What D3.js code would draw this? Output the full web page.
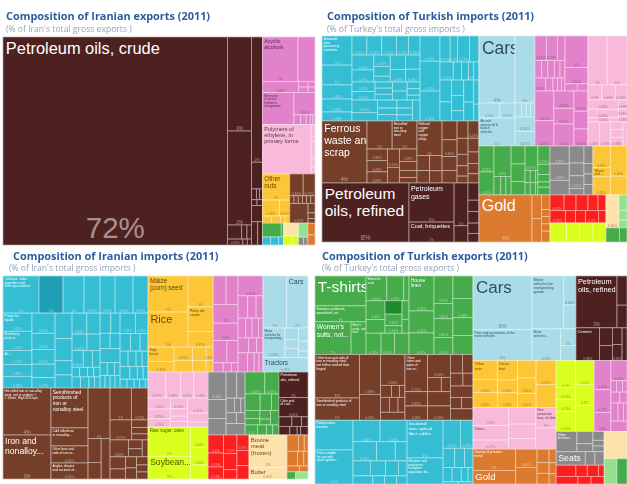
<!DOCTYPE html>
<html>
<head>
<meta charset="utf-8">
<script src="https://cdn.jsdelivr.net/npm/d3@7"></script>
<style>
  html, body { margin: 0; background: #fff; overflow: hidden; }
  svg { display: block; filter: blur(0.4px); }
</style>
</head>
<body>
<svg id="chart" width="627" height="484"></svg>
<script>
// Four export/import treemaps, 2011. Values are % of the total.

const cols = (...kids) => { kids.dir = "cols"; return kids; };
const rows = (...kids) => { kids.dir = "rows"; return kids; };
const tint = (sector, kids) => { kids.sector = sector; return kids; };
const c = (value, share, label) => ({ value, share, label });

// --- Iranian exports ---
const iranExportsOil = tint("oil", cols(
  c(72, "72%", "Petroleum oils, crude"),
  rows(c(3.48, "3%"), c(3.48, "2%"),
    rows(cols(.3, .12, .1), cols(c(.14, "0.18%"), .04, .04))),
  rows(c(2.1, "2%"), .45, cols(.08, .05, .05), cols(.05, .05), .27, cols(.22, .17))
));
const iranExportsChem = tint("chem", rows(
  cols(c(2.43, "2%", "Acyclic\nalcohols"), 1.17),
  cols(c(.62, "0.60%"), rows(.08, .08), rows(.06, .06)),
  cols(c(1.54, "", "Mineral or\nchemical\nfertilizers,\nnitrogenous"),
    rows(c(.72, "0.50%"), cols(.1, .08, .06, .04, .03)))
));
const iranExportsPlastic = tint("plastic", cols(
  c(3.72, "", "Polymers of\nethylene, in\nprimary forms"), rows(.1, .1, .05, .04)
));
const iranExportsFood = tint("food", rows(
  c(1.1, "1%", "Other\nnuts"),
  cols(c(.42, "0.26%"), c(.25, "0.18%")),
  cols(.1, .1, .05, .05)
));
const iranExportsMetal = tint("metal", rows(
  cols(c(.45, "0.30%"), c(.4, "0.27%")),
  cols(.05, .05, .05, .05, .05, .05),
  cols(c(.55, "0.37%"), rows(.1, .06, .05))
));
const iranExportsRest = cols(
  rows(tint("green", cols(.4, .05)), tint("cyan", cols(.1, .1, .06))),
  rows(tint("cream", rows(.3)), tint("lime", cols(.12, .09))),
  rows(tint("lgreen", rows(.2)), tint("grey", cols(.06, .05))),
  tint("orange", rows(.13, .11))
);

// --- Turkish imports ---
const turkeyImportsMachinery = tint("cyan", cols(
  rows(c(1.39, "1%", "Automatic\ndata\nprocessing\nmachines"), c(.95, "1%"), c(.67, "0.40%"), c(.62, "0.30%"), c(.43, "0.28%")),
  rows(
    cols(c(.45, "0.30%"), c(.45, "0.29%"), c(.45, "0.29%"), c(.36, "0.24%"), c(.35, "0.23%")),
    cols(rows(c(.52, "0.30%"), c(.42, "0.29%")), rows(c(.3, "0.20%"), .25, .15), rows(.35, c(.3, "0.26%")), rows(.33, c(.3, "0.28%"))),
    cols(rows(c(.35, "0.28%"), c(.31, "0.25%")), rows(.17, .17, .16), rows(.21, .21), rows(.14, .13, .1)),
    cols(rows(c(.5, "0.23%"), .35), rows(.25, .2, .2), rows(.2, .17, .15), .25)
  ),
  rows(c(.8, "0.35%"), c(.95, "0.32%"), c(.95, "0.30%")),
  rows(
    cols(c(.42, "0.27%"), c(.3, "0.17%"), c(.5, "0.17%"), .39),
    cols(c(.38, "0.15%"), .24, .2, c(.15, "0.14%"), .15),
    cols(rows(.4, .35), rows(.3, .3, .2), rows(.35, .3), rows(.2, .14))
  )
));
const turkeyImportsMetal = tint("metal", cols(
  c(4.44, "4%", "Ferrous\nwaste and\nscrap"),
  rows(
    cols(c(1.12, "1%"), c(1.11, "1%", "Hot rolled\niron or\nnon-alloy\nsteel")),
    cols(rows(c(.37, "0.30%"), c(.37, "0.28%"), c(.36, "0.28%")), rows(c(.35, "0.19%"), .3), rows(c(.35, "0.18%"), .25, .2, .15))
  ),
  rows(c(1.38, "1%", "Refined\ncopper\nand\ncopper\nalloys"), cols(rows(.3, .25), rows(.3, .24))),
  cols(rows(.45, c(.4, "0.40%"), .33, .3), rows(.3, .28, .2, .18, .12), rows(c(.3, "0.24%"), .24, .2, .18, .16))
));
const turkeyImportsOil = tint("oil", cols(
  c(8.17, "8%", "Petroleum\noils, refined"),
  rows(c(2.8, "3%", "Petroleum\ngases"), c(1.43, "1%", "Coal; briquettes")),
  rows(c(.95, "1%"), .36),
  rows(.3, .2, .2, .18, .15)
));
const turkeyImportsVehicles = tint("vehicle", cols(
  rows(cols(c(3.84, "4%", "Cars")), cols(c(.5, "0.50%"), c(.36, "0.37%")), c(1.6, "1%", "Aircraft,\nspacecraft &\nlaunch\nvehicles")),
  rows(c(2.13, "2%"), cols(.15, .1, .1, .1), c(.45, "0.36%"), c(.47, "0.17%"))
));
const turkeyImportsChem = tint("chem", rows(
  cols(
    rows(cols(c(.45, "0.33%"), c(.42, "0.26%"), .3), cols(.18, .18, .18, .16, .14), cols(c(.22, "0.29%"), .15, .1, .08, .07)),
    rows(c(1.15, "1%"), c(.6, "0.40%"), cols(.14, .12))
  ),
  cols(
    rows(c(.9, "0.27%"), c(.76, "0.47%")),
    rows(c(.55, "0.28%"), c(.5, "0.25%"), c(.7, "0.40%")),
    rows(c(.45, "0.26%"), .4, c(.38, "0.26%"))
  )
));
const turkeyImportsPlastic = tint("plastic", rows(
  cols(c(1.5, "1%"), c(1.54, "1%")),
  cols(c(.33, "0.4%"), c(.32, "0.44%"), c(.28, "0.43%")),
  cols(rows(c(.45, "0.38%"), c(.42, "0.28%"), c(.2, "0.24%")), rows(c(.12, "0.18%"), c(.1, "0.11%"), c(.08, "0.11%"))),
  cols(c(.45, "0.45%"), c(.42, "0.33%"), rows(.15, .15, c(.17, "0.38%")), .15)
));
const turkeyImportsGreen = tint("green", cols(
  rows(c(.62, "0.53%"), c(.55, "0.49%")),
  rows(c(.83, "0.5%"), cols(.2, .15, .15)),
  rows(.4, .39, .3),
  rows(c(.5, "0.37%"), cols(.1, .1, .05), cols(.1, .1, .05)),
  rows(c(.35, "0.20%"), .2, .14, .1, .15)
));
const turkeyImportsGrey = tint("grey", cols(
  rows(c(.55, "0.35%"), c(.5, "0.33%"), .45),
  rows(.4, .3, c(.3, "0.21%"), .15),
  rows(.25, .15, .15, .15)
));
const turkeyImportsFood = tint("food", cols(
  rows(c(.6, "0.34%"), c(.25, "", "Wheat\nand..."), c(.5, "0.30%")),
  rows(c(.8, "0.30%"), .5)
));
const turkeyImportsGold = tint("orange", cols(
  c(3.97, "4%", "Gold"),
  rows(.35, .35),
  rows(.2, .1, .1, .1, .15)
));
const turkeyImportsRed = tint("red", rows(
  cols(c(.35, "0.37%"), .3, .3, .25, .2),
  cols(c(.3, "0.25%"), .2, .2, c(.25, "0.2%"), .15)
));
const turkeyImportsLime = tint("lime", cols(.5, .4, .4, .39));
const turkeyImportsCorner = rows(
  cols(tint("cream", rows(c(.68, "0.30%"))), tint("lgreen", rows(.2, .12, .1))),
  tint("green", cols(.3, .17))
);

// --- Iranian imports ---
const iranImportsMachinery = tint("cyan", rows(
  cols(
    c(2.16, "2%", "Cellulose, turbo\npropellers and\nother gas turbines"),
    tint("cyanDark", rows(c(1.44, "1%"))),
    c(1.26, "1%"), c(.96, "0.50%"), c(.9, "0.50%"), c(1.08, "0.40%"), c(.9, "0.45%")
  ),
  cols(
    rows(c(.85, "0.60%", "Pumps for\nliquids"), c(.9, "0.51%", "Machinery,\nplant or..."), c(.66, "0.50%", "Ac..."), c(.55, "0.35%"), c(.55, "0.30%")),
    rows(c(.75, "0.31%"), c(.6, "0.35%"), c(.55, "0.37%"), .5, c(.39, "0.37%")),
    rows(.7, .6, .4, .36),
    rows(cols(c(.5, "0.34%"), .45), cols(c(.4, "0.32%"), .35), cols(c(.3, "0.30%"), .25, .2), cols(.12, .12, .1, .1), cols(.15, .15, .1, .1)),
    rows(cols(.35, .3), cols(.25, .25), .45, cols(.15, .15, .12), cols(.1, .1, .1, .1)),
    rows(cols(c(.5, "0.25%"), c(.42, "0.25%")), cols(.3, .27, .23), cols(.2, .2, .15, .15), cols(.2, .15, .12, .1), cols(.1, .1, .08, .08, .04))
  )
));
const iranImportsMetal = tint("metal", cols(
  rows(c(3.64, "4%", "Hot rolled iron or non-alloy\nsteel, coil or uniform, t\n< 10mm, High 355 mpa"), c(3.41, "3%", "Iron and\nnonalloy...")),
  rows(c(2.39, "", "Semifinished\nproducts of\niron or\nnonalloy steel"), c(1.08, "", "Cold rolled iron\nor non-alloy..."), c(1.02, "0.40%", "Other bars and\nrods of iron or..."), c(.96, "0.40%", "Angles, shapes\nand sections of...")),
  rows(c(1.8, "1%"), cols(rows(.5, .35), .58)),
  rows(
    cols(c(1.1, "1%"), c(.86, "0.75%")),
    cols(c(.7, "0.57%"), rows(.2, .17, .16)),
    cols(c(.5, "0.50%"), rows(.2, .18), .16),
    cols(rows(.3, .25), rows(.2, .2), rows(.15, .13, .13))
  )
));
const iranImportsFood = tint("food", rows(
  cols(
    rows(c(2.33, "2%", "Maize\n(corn) seed"), c(2.26, "1%", "Rice")),
    rows(c(1.25, "1%"), c(1, "", "Palm oil,\ncrude"), c(.62, "0.67%"))
  ),
  cols(
    rows(c(.6, "", "Soya\nbeans"), c(.45, "0.30%")),
    rows(c(.4, "0.31%"), .35),
    rows(.3, .25),
    rows(c(.15, "0.30%"), .13)
  )
));
const iranImportsChem = tint("chem", cols(
  rows(cols(.6, .55), c(.75, "1%"), c(.7, "0.4%"), cols(.5, .4), cols(.15, .12, .1)),
  rows(c(.8, "0.40%"), cols(.35, .3, .25), cols(.25, .2, .2, .15), cols(.25, .2, .15), cols(.3, .2, .15, .125))
));
const iranImportsVehicles = tint("vehicle", rows(
  cols(c(2, "2%"), c(1.78, "2%", "Cars")),
  cols(c(1.05, "0.50%", "Motor\nvehicles for\ntransporting..."), rows(.25, .2, .2), rows(.2, .15, .1)),
  rows(c(1.05, "0.35%", "Tractors"))
));
const iranImportsPlastic = tint("plastic", rows(
  cols(c(.75, "0.57%"), c(.62, "0.48%"), c(.55, "0.41%"), c(.6, "0.46%")),
  cols(rows(c(.4, "0.36%"), c(.35, "0.25%"), c(.3, "0.25%")), rows(c(.3, "0.15%"), .2, .15, .15), rows(c(.5, "0.45%"), .3, .16))
));
const iranImportsLime = tint("lime", cols(
  rows(c(2, "2%", "Raw sugar, cane"), c(1.56, "2%", "Soybean...")),
  rows(c(.58, "0.34%"), c(.5, "0.30%"), .4)
));
const iranImportsGrey = tint("grey", cols(
  rows(c(.8, "0.40%"), .55, .48),
  rows(cols(.45, .35), cols(.2, .15, .1), cols(.18, .15), .35)
));
const iranImportsGreen = tint("green", rows(
  cols(c(.7, "0.40%"), c(.5, "0.37%")),
  cols(.4, .3, .2),
  cols(rows(.2, .15), rows(.15, .1), .2),
  cols(c(.2, "0.2%"), .15, .1, .1)
));
const iranImportsOil = tint("oil", rows(
  c(1.2, "2%", "Petroleum\noils, refined"),
  c(.9, "0.30%", "Coke and\nof coal..."),
  cols(.2, .15, .1),
  cols(.15, .1, .05, .1)
));
const iranImportsRed = tint("red", cols(
  rows(c(.45, "0.4%"), c(.35, "0.25%"), c(.3, "0.18%")),
  rows(c(.4, "0.32%"), .35, .2),
  rows(c(.3, "0.3%"), .3, .26)
));
const iranImportsCream = tint("cream", rows(
  c(2, "2%", "Bovine\nmeat\n(frozen)"),
  c(.7, "0.40%", "Butter")
));
const iranImportsCorner = rows(
  tint("orange", rows(cols(.3, .15, .1), cols(.25, .15, .1), cols(.12, .08))),
  cols(tint("green", rows(.1)), tint("lgreen", rows(.14)))
);

// --- Turkish exports ---
const turkeyExportsGreen = tint("green", cols(
  rows(
    c(2.36, "", "T-shirts"),
    c(1.26, "1%", "Sweaters, pullovers,\nsweatshirts, etc"),
    cols(c(1.83, "1%", "Women's\nsuits, not..."), c(.76, "", "Men's\nsuits, not\nknit"))
  ),
  rows(
    cols(c(.8, "0.60%", "Women's\nsuits"), c(.65, "0.70%"), .2),
    cols(rows(c(.55, "0.30%"), .4), rows(tint("greenDark", rows(.35)), c(.3, "0.30%"), c(.2, "0.30%")), rows(.2, .15)),
    cols(c(.5, "0.33%"), c(.45, "0.30%"), .48)
  ),
  cols(
    rows(c(1.35, "0.50%", "House\nlinen"), c(.85, "0.30%"), c(.84, "0.35%")),
    cols(
      rows(c(.8, "0.47%"), c(.45, "0.30%"), c(.55, "0.30%"), c(.5, "0.30%")),
      rows(.7, c(.6, "0.38%"), .55, .6)
    )
  )
));
const turkeyExportsMetal = tint("metal", cols(
  rows(
    c(2.98, "3%", "Other bars and rods of\niron or nonalloy steel,\nnot further worked than\nforged"),
    c(1.53, "1%", "Semifinished products of\niron or nonalloy steel")
  ),
  cols(
    rows(c(1.3, "0.80%"), c(.85, "0.50%")),
    rows(c(1.15, "0.84%"), cols(.2, .15, .1), cols(.2, .2, .16), .3)
  ),
  cols(
    rows(c(1.3, "0.75%", "Other\ntubes and\npipes of\niron or..."), c(.5, "0.35%"), c(.5, "0.28%")),
    rows(c(.8, "0.60%"), cols(.3, .2), .5, c(.5, "0.30%")),
    rows(cols(.35, .3), cols(.25, .2), .4, cols(.2, .2), .4)
  )
));
const turkeyExportsMachinery = tint("cyan", cols(
  rows(c(1.75, "", "Refrigerators,\nfreezers"), c(2, "0.5%", "Parts suitable\nfor use with\nspark ignition...")),
  rows(
    cols(c(.9, "0.50%"), c(.9, "0.33%")),
    cols(c(.7, "0.33%"), .55, .35),
    cols(.4, .35, .3, .2),
    cols(.25, .15, .15, .13)
  ),
  cols(
    rows(c(2.1, "1%", "Insulated\nwire, optical\nfiber cables"), c(1.45, "", "Monitors and\nprojectors;\nreception\napparatus for...")),
    rows(cols(c(.75, "0.33%"), c(.55, "0.33%")), cols(.35, .3, .25), cols(.2, .2, .15, .11), cols(.05, .05))
  )
));
const turkeyExportsVehicles = tint("vehicle", cols(
  rows(c(4.9, "5%", "Cars"), c(2.82, "3%", "Parts and accessories of the\nmotor vehicles")),
  rows(
    cols(c(2.6, "", "Motor\nvehicles for\ntransporting\ngoods"), rows(c(.55, "0.84%"), .45)),
    cols(c(1.4, "0.74%", "Motor\nvehicles..."), rows(c(.4, "2%"), .36))
  )
));
const turkeyExportsOil = tint("oil", rows(
  cols(c(3.29, "3%", "Petroleum\noils, refined"), rows(.45, .35)),
  cols(c(1.2, "0.88%", "Cement"), rows(.35, .3), rows(.25, c(.24, "0.30%")), .25)
));
const turkeyExportsFood = tint("food", cols(
  rows(c(.7, "", "Other\nnuts"), c(.5, "0.55%"), c(.55, "0.52%")),
  rows(c(.6, "", "Citrus\nfruit"), c(.4, "0.70%"), c(.45, "0.18%")),
  rows(.5, c(.45, "0.30%"), c(.4, "0.20%")),
  rows(c(.75, "0.61%"), .7)
));
const turkeyExportsPlastic = tint("plastic", cols(
  rows(c(1, "0.3%"), c(.8, "", "Tubes..."), c(.5, "0.47%")),
  rows(.7, .6, .45),
  rows(c(.65, "1%", "New\npneumatic\ntires, of rubber"), .67)
));
const turkeyExportsOrange = tint("orange", cols(
  rows(c(1.4, "1%", "Jewelry of precious\nmetal"), c(.9, "", "Gold")),
  rows(c(.6, "0.60%"), .55),
  rows(.25, .2, .2),
  rows(.15, .12, .11)
));
const turkeyExportsLime = tint("lime", cols(
  rows(c(.8, "0.4%"), c(.35, "0.19%"), c(.35, "0.19%"), c(.6, "0.33%")),
  rows(c(.7, "0.41%"), c(.6, "0.3%"), .76)
));
const turkeyExportsChem = tint("chem", cols(
  rows(c(.75, "0.30%"), c(.6, "0.37%"), c(.5, "0.3%")),
  rows(c(.5, "0.45%"), cols(.1, .1, .08), cols(.15, .12), cols(.2, .15, .1), .26)
));
const turkeyExportsGrey = tint("grey", rows(
  cols(c(.65, "", "Other\nfurniture..."), rows(.3, .2), rows(.15, .1, .1)),
  cols(c(.6, "", "Seats"), .2, .19)
));
const turkeyExportsRed = tint("red", rows(cols(.35, .2, .2, .1), cols(.25, .15, .15)));
const turkeyExportsCorner = rows(
  tint("cream", rows(.96)),
  cols(tint("lgreen", rows(.5)), tint("green", rows(.39)))
);

// whole panels, built from the groups above
const iranExports = cols(
  iranExportsOil,
  rows(iranExportsChem, iranExportsPlastic, cols(iranExportsFood, iranExportsMetal), iranExportsRest)
);
const turkeyImports = cols(
  rows(turkeyImportsMachinery, turkeyImportsMetal, turkeyImportsOil),
  rows(
    cols(turkeyImportsVehicles, turkeyImportsChem, turkeyImportsPlastic),
    cols(turkeyImportsGreen, turkeyImportsGrey, turkeyImportsFood),
    cols(turkeyImportsGold, rows(turkeyImportsRed, turkeyImportsLime), turkeyImportsCorner)
  )
);
const iranImports = cols(
  rows(iranImportsMachinery, iranImportsMetal),
  rows(
    cols(iranImportsFood, iranImportsChem, iranImportsVehicles),
    cols(
      rows(iranImportsPlastic, iranImportsLime),
      rows(
        cols(iranImportsGrey, iranImportsGreen, iranImportsOil),
        cols(iranImportsRed, iranImportsCream, iranImportsCorner)
      )
    )
  )
);
const turkeyExports = cols(
  rows(turkeyExportsGreen, turkeyExportsMetal, turkeyExportsMachinery),
  rows(
    cols(turkeyExportsVehicles, turkeyExportsOil),
    cols(
      rows(turkeyExportsFood, turkeyExportsPlastic, turkeyExportsOrange),
      rows(
        cols(turkeyExportsLime, turkeyExportsChem),
        cols(rows(turkeyExportsGrey, turkeyExportsRed), turkeyExportsCorner)
      )
    )
  )
);

const titles = [
  "Composition of Iranian exports (2011)",
  "Composition of Turkish imports (2011)",
  "Composition of Iranian imports (2011)",
  "Composition of Turkish exports (2011)"
];
const notes = [
  "(% of Iran's total gross exports )",
  "(% of Turkey's total gross imports )",
  "(% of  Iran's total gross imports )",
  "(% of Turkey's total gross exports )"
];

const sectorFill = {
  oil: "#4e2121", metal: "#753e28", cyan: "#35bdd3", cyanDark: "#1f9fb5",
  vehicle: "#a9dce8", chem: "#e282cb", plastic: "#f8b9db", food: "#fdc637",
  green: "#46ab4a", greenDark: "#1f8a2a", grey: "#8a8a8a", orange: "#dc7a2f",
  red: "#fb1f1f", lime: "#d9ff1e", cream: "#fde3ab", lgreen: "#96e08f"
};
const sectorInk = {
  vehicle: "#2f4f5e", chem: "#5a2a55", plastic: "#5a3a4a", food: "#6a4a00",
  lime: "#4d5a00", cream: "#6a4a10"
};

const panels = [
  { tree: iranExports, box: { x: 3, y: 37, w: 312, h: 208 }, tx: 6, ty: 20, nx: 6, ny: 32,
    sizes: { "Petroleum oils, crude": 16.4, "Acyclic\nalcohols": 5.2, "Polymers of\nethylene, in\nprimary forms": 5.6, "Other\nnuts": 6.4 } },
  { tree: turkeyImports, box: { x: 322, y: 36, w: 305, h: 206 }, tx: 327, ty: 20, nx: 327, ny: 32,
    sizes: { "Cars": 17.5, "Ferrous\nwaste and\nscrap": 10.5, "Petroleum\noils, refined": 15.5, "Petroleum\ngases": 7, "Coal; briquettes": 5.6, "Gold": 16 } },
  { tree: iranImports, box: { x: 3, y: 276, w: 305, h: 203 }, tx: 13, ty: 260, nx: 9, ny: 271,
    sizes: { "Maize\n(corn) seed": 6.4, "Rice": 11, "Cars": 7, "Tractors": 6.4, "Iron and\nnonalloy...": 8.6, "Soybean...": 8.6, "Raw sugar, cane": 4.6,
      "Bovine\nmeat\n(frozen)": 6, "Butter": 5.6, "Semifinished\nproducts of\niron or\nnonalloy steel": 5, "Palm oil,\ncrude": 4, "Petroleum\noils, refined": 3.6 } },
  { tree: turkeyExports, box: { x: 315, y: 276, w: 312, h: 208 }, tx: 322, ty: 260, nx: 322, ny: 271,
    sizes: { "T-shirts": 15.5, "Cars": 17, "Gold": 9.6, "Seats": 8.8, "Petroleum\noils, refined": 7.4, "Women's\nsuits, not...": 6.6, "House\nlinen": 5,
      "Insulated\nwire, optical\nfiber cables": 4.4, "Other\nnuts": 3.8, "Citrus\nfruit": 3.8, "Cement": 4, "Motor\nvehicles for\ntransporting\ngoods": 3.8 } }
];
const bigShares = { "72%": 29.5 };

const svg = d3.select("#chart");
const tile = (node, x0, y0, x1, y1) =>
  (node.data.dir === "rows" ? d3.treemapSlice : d3.treemapDice)(node, x0, y0, x1, y1);

panels.forEach((panel, i) => {
  svg.append("text")
    .attr("x", panel.tx).attr("y", panel.ty)
    .attr("fill", "#2d5c9e")
    .attr("font-family", "'Open Sans', sans-serif")
    .attr("font-weight", "bold")
    .attr("font-size", 10.9)
    .text(titles[i]);
  svg.append("text")
    .attr("x", panel.nx).attr("y", panel.ny)
    .attr("fill", "#93a3ba")
    .attr("font-family", "'Open Sans', sans-serif")
    .attr("font-size", 8.6)
    .text(notes[i]);

  const root = d3.hierarchy(panel.tree, d => Array.isArray(d) ? d : null)
    .sum(d => typeof d === "number" ? d : (d.value || 0));
  d3.treemap().tile(tile).size([panel.box.w, panel.box.h])(root);

  const sectorOf = node => {
    while (node && !node.data.sector) node = node.parent;
    return node ? node.data.sector : "grey";
  };

  const g = svg.append("g")
    .attr("transform", `translate(${panel.box.x},${panel.box.y})`)
    .attr("font-family", "'Liberation Sans', Arial, sans-serif");

  const leafList = root.leaves();
  const leaves = g.selectAll("g.cell")
    .data(leafList)
    .join("g")
    .attr("class", "cell")
    .attr("transform", d => `translate(${d.x0},${d.y0})`);

  leaves.append("clipPath")
    .attr("id", (d, j) => `clip-${i}-${j}`)
    .append("rect")
    .attr("width", d => d.x1 - d.x0)
    .attr("height", d => d.y1 - d.y0);

  // borders are a pale mix of the cell's own colour
  leaves.append("rect")
    .attr("width", d => d.x1 - d.x0)
    .attr("height", d => d.y1 - d.y0)
    .attr("fill", d => sectorFill[sectorOf(d)])
    .attr("stroke", d => d3.interpolateRgb(sectorFill[sectorOf(d)], "#fff")(0.6))
    .attr("stroke-width", 0.7);

  // share at the bottom of a cell
  leaves.filter(d => d.data.share)
    .append("text")
    .attr("x", d => (d.x1 - d.x0) / 2)
    .attr("y", d => d.y1 - d.y0 - shareSize(d) * 0.22 - 0.4)
    .attr("text-anchor", "middle")
    .attr("font-size", shareSize)
    .attr("fill", d => sectorInk[sectorOf(d)] ? "rgba(70,50,50,0.5)" : "rgba(255,255,255,0.5)")
    .text(d => d.data.share);

  // cell name, top left, cut off by the cell like the original
  leaves.filter(d => d.data.label)
    .append("text")
    .attr("clip-path", d => `url(#clip-${i}-${leafList.indexOf(d)})`)
    .attr("font-size", d => panel.sizes[d.data.label] || 3.2)
    .attr("fill", d => sectorInk[sectorOf(d)] || "#fff")
    .each(function(d) {
      const px = panel.sizes[d.data.label] || 3.2;
      d3.select(this).selectAll("tspan")
        .data(d.data.label.split("\n"))
        .join("tspan")
        .attr("x", 1.2 + px * 0.1)
        .attr("y", (line, k) => 1 + px * 0.95 + k * px * 1.13)
        .text(line => line);
    });
});

function shareSize(d) {
  if (bigShares[d.data.share]) return bigShares[d.data.share];
  const side = Math.sqrt((d.x1 - d.x0) * (d.y1 - d.y0));
  return Math.max(3.2, Math.min(7, side * 0.1));
}
</script>
</body>
</html>
